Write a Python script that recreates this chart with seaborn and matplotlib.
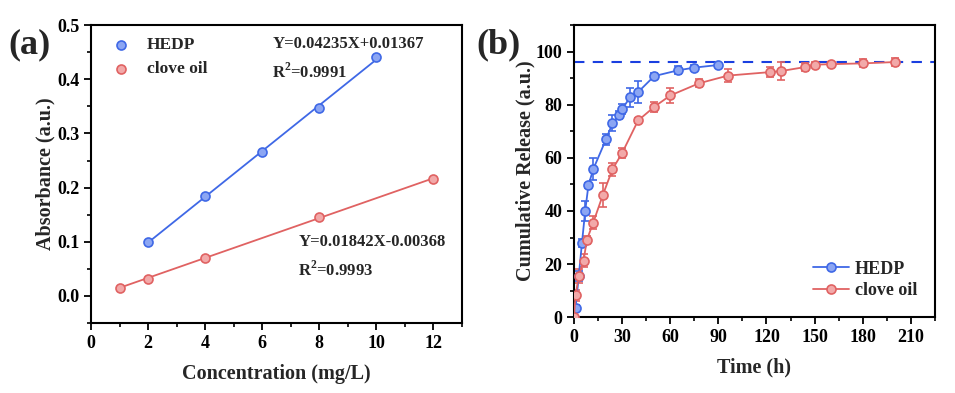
import numpy as np
import matplotlib
matplotlib.use("Agg")
import matplotlib.pyplot as plt
from matplotlib.ticker import MultipleLocator
import seaborn as sns

# (a) calibration curves
hedp_conc = [2, 4, 6, 8, 10]
hedp_abs = [0.100, 0.184, 0.266, 0.347, 0.441]
clove_conc = [1, 2, 4, 8, 12]
clove_abs = [0.015, 0.032, 0.071, 0.146, 0.216]
hedp_eq = ["Y=0.04235X+0.01367", "R$^{\\mathbf{2}}$=0.9991"]
clove_eq = ["Y=0.01842X-0.00368", "R$^{\\mathbf{2}}$=0.9993"]

# (b) cumulative release
hedp_t = [1, 3, 5, 7, 9, 12, 20, 24, 28, 30, 35, 40, 50, 65, 75, 90]
hedp_rel = [3.6, 15.5, 28.0, 40.0, 49.6, 55.7, 67.0, 73.0, 76.0, 78.4, 82.8, 84.8, 90.8, 93.0, 94.0, 95.0]
hedp_err = [1.0, 2.0, 1.5, 3.7, 1.0, 4.2, 2.0, 3.0, 1.5, 2.0, 3.5, 4.0, 1.0, 1.5, 1.0, 0.8]
clove_t = [0, 1, 3, 6, 8, 12, 18, 24, 30, 40, 50, 60, 78, 96, 122, 129, 144, 150, 160, 180, 200]
clove_rel = [0.0, 8.2, 15.5, 21.3, 29.0, 35.6, 46.0, 55.7, 61.8, 74.1, 79.2, 83.5, 88.1, 91.0,
             92.3, 92.7, 94.2, 95.1, 95.3, 95.6, 96.1]
clove_err = [0.5, 2.0, 2.5, 2.5, 1.5, 2.5, 4.5, 2.5, 2.0, 1.0, 2.0, 3.0, 1.5, 2.5,
             2.0, 3.5, 1.5, 1.0, 0.8, 1.5, 1.5]
plateau = 96.3

blue = "#3f68e6"
red = "#e06262"
blue_face = "#8ca6f3"
red_face = "#f2a9a9"

sns.set_theme(style="ticks")
plt.rcParams["font.family"] = ["Liberation Serif", "DejaVu Serif"]
plt.rcParams["font.weight"] = "bold"
plt.rcParams["mathtext.fontset"] = "custom"
plt.rcParams["mathtext.rm"] = "Liberation Serif:bold"
plt.rcParams["mathtext.bf"] = "Liberation Serif:bold"
plt.rcParams["axes.linewidth"] = 1.5
plt.rcParams["xtick.major.width"] = 1.3
plt.rcParams["ytick.major.width"] = 1.3
plt.rcParams["xtick.minor.width"] = 1.2
plt.rcParams["ytick.minor.width"] = 1.2
plt.rcParams["xtick.major.size"] = 5
plt.rcParams["ytick.major.size"] = 5
plt.rcParams["xtick.minor.size"] = 3
plt.rcParams["ytick.minor.size"] = 3
plt.rcParams["xtick.color"] = "black"
plt.rcParams["ytick.color"] = "black"
plt.rcParams["axes.edgecolor"] = "black"

fig = plt.figure(figsize=(9.55, 3.93), dpi=100)
ax1 = fig.add_axes([0.0953, 0.178, 0.3885, 0.758])
ax2 = fig.add_axes([0.601, 0.193, 0.378, 0.743])

# ---- panel (a)
for x, y, c, fc, lab in [(hedp_conc, hedp_abs, blue, blue_face, "HEDP"),
                         (clove_conc, clove_abs, red, red_face, "clove oil")]:
    sns.regplot(x=x, y=y, ax=ax1, ci=None, truncate=True, scatter=False,
                line_kws=dict(color=c, lw=1.3))
    sns.scatterplot(x=x, y=y, ax=ax1, color=fc, edgecolor=c, linewidth=1.2,
                    s=42, label=lab, zorder=3)

ax1.set_xlim(0, 13)
ax1.set_ylim(-0.05, 0.5)
ax1.xaxis.set_major_locator(MultipleLocator(2))
ax1.xaxis.set_minor_locator(MultipleLocator(1))
ax1.yaxis.set_major_locator(MultipleLocator(0.1))
ax1.yaxis.set_minor_locator(MultipleLocator(0.05))
ax1.set_xticks([0, 2, 4, 6, 8, 10, 12])
ax1.set_yticks([0.0, 0.1, 0.2, 0.3, 0.4, 0.5])
ax1.set_yticklabels(["0.0", "0.1", "0.2", "0.3", "0.4", "0.5"])
ax1.tick_params(labelsize=13)
ax1.set_xlabel("Concentration (mg/L)", fontsize=14.5, fontweight="bold", labelpad=9)
ax1.set_ylabel("Absorbance (a.u.)", fontsize=14.5, fontweight="bold", labelpad=1)
ax1.legend(loc="upper left", frameon=False, fontsize=12.5, handletextpad=0.5,
           borderaxespad=0.3, labelspacing=0.45)
ax1.text(6.35, 0.466, hedp_eq[0], fontsize=12, fontweight="bold", va="center")
ax1.text(6.35, 0.413, hedp_eq[1], fontsize=12, fontweight="bold", va="center")
ax1.text(7.27, 0.099, clove_eq[0], fontsize=12, fontweight="bold", va="center")
ax1.text(7.27, 0.048, clove_eq[1], fontsize=12, fontweight="bold", va="center")
fig.text(0.009, 0.885, "(a)", fontsize=26, fontweight="bold", va="center")

# ---- panel (b)
for t, r, e, c, fc, lab in [(hedp_t, hedp_rel, hedp_err, blue, blue_face, "HEDP"),
                            (clove_t, clove_rel, clove_err, red, red_face, "clove oil")]:
    ax2.errorbar(t, r, yerr=e, fmt="none", ecolor=c, elinewidth=1.2, capsize=3,
                 capthick=1.2, zorder=2)
    sns.lineplot(x=t, y=r, ax=ax2, color=c, lw=1.3, marker="o", markersize=6.5,
                 markerfacecolor=fc, markeredgecolor=c, markeredgewidth=1.2,
                 label=lab, zorder=3)

ax2.axhline(plateau, color="#1a3fe0", lw=1.5, ls=(0, (5, 4)), zorder=1)
ax2.set_xlim(0, 225)
ax2.set_ylim(0, 110)
ax2.xaxis.set_major_locator(MultipleLocator(30))
ax2.xaxis.set_minor_locator(MultipleLocator(15))
ax2.yaxis.set_major_locator(MultipleLocator(20))
ax2.yaxis.set_minor_locator(MultipleLocator(10))
ax2.set_yticks([0, 20, 40, 60, 80, 100])
ax2.tick_params(labelsize=13)
ax2.set_xlabel("Time (h)", fontsize=14.5, fontweight="bold", labelpad=8)
ax2.set_ylabel("Cumulative Release (a.u.)", fontsize=14.5, fontweight="bold", labelpad=0)
ax2.legend(loc="lower right", frameon=False, fontsize=13, handlelength=2.0,
           handletextpad=0.3, borderaxespad=0.6, labelspacing=0.25)
fig.text(0.499, 0.885, "(b)", fontsize=26, fontweight="bold", va="center")

for ax in (ax1, ax2):
    ax.tick_params(which="both", direction="out", top=False, right=False)
    for s in ax.spines.values():
        s.set_visible(True)

fig.savefig("out.png", dpi=100)
